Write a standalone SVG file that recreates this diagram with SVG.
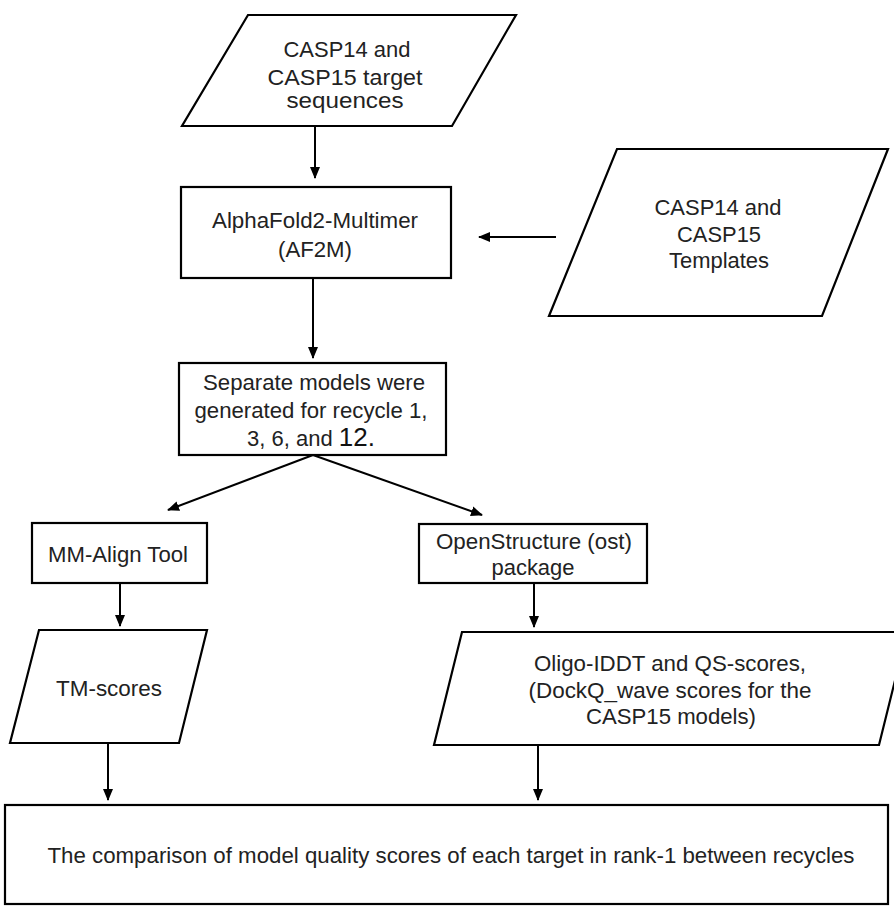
<svg xmlns="http://www.w3.org/2000/svg" width="894" height="907" viewBox="0 0 894 907">
<style>
.s{fill:#fff;stroke:#000;stroke-width:2.2}
.t{font-family:"Liberation Sans",Arial,sans-serif;font-size:22px;fill:#222;text-anchor:middle}
.c{stroke:#000;stroke-width:2;fill:none}
</style>
<defs>
<marker id="ah" markerUnits="userSpaceOnUse" markerWidth="12" markerHeight="12" viewBox="0 0 12 12" refX="11" refY="6" orient="auto">
<path d="M0,1 L12,6 L0,11 Z" fill="#000"/>
</marker>
</defs>
<rect width="894" height="907" fill="#fff"/>
<g id="connectors">
<line class="c" x1="315" y1="126" x2="315" y2="178" marker-end="url(#ah)"/>
<line class="c" x1="556" y1="237" x2="479" y2="237" marker-end="url(#ah)"/>
<line class="c" x1="313" y1="278" x2="313" y2="358" marker-end="url(#ah)"/>
<line class="c" x1="313" y1="455" x2="168" y2="510" marker-end="url(#ah)"/>
<line class="c" x1="313" y1="455" x2="482" y2="515" marker-end="url(#ah)"/>
<line class="c" x1="120" y1="583" x2="120" y2="626" marker-end="url(#ah)"/>
<line class="c" x1="534" y1="583" x2="534" y2="627" marker-end="url(#ah)"/>
<line class="c" x1="108" y1="743" x2="108" y2="800" marker-end="url(#ah)"/>
<line class="c" x1="538" y1="745" x2="538" y2="800" marker-end="url(#ah)"/>
</g>
<g id="target-sequences">
<polygon class="s" points="248,15 516,15 452,126 182,126"/>
<text class="t" x="347" y="57" textLength="127" lengthAdjust="spacingAndGlyphs">CASP14 and</text>
<text class="t" x="345" y="85" textLength="155" lengthAdjust="spacingAndGlyphs">CASP15 target</text>
<text class="t" x="345" y="108" textLength="117" lengthAdjust="spacingAndGlyphs">sequences</text>
</g>
<g id="af2m">
<rect class="s" x="181" y="187" width="270" height="91"/>
<text class="t" x="315" y="228" textLength="206" lengthAdjust="spacingAndGlyphs">AlphaFold2-Multimer</text>
<text class="t" x="315" y="257" textLength="74" lengthAdjust="spacingAndGlyphs">(AF2M)</text>
</g>
<g id="templates">
<polygon class="s" points="617,149 888,149 822,316 549,316"/>
<text class="t" x="718" y="215" textLength="127" lengthAdjust="spacingAndGlyphs">CASP14 and</text>
<text class="t" x="719" y="242" textLength="84" lengthAdjust="spacingAndGlyphs">CASP15</text>
<text class="t" x="719" y="268" textLength="100" lengthAdjust="spacingAndGlyphs">Templates</text>
</g>
<g id="separate-models">
<rect class="s" x="179" y="363" width="267" height="92"/>
<text class="t" x="314" y="390" textLength="222" lengthAdjust="spacingAndGlyphs">Separate models were</text>
<text class="t" x="311" y="418" textLength="233" lengthAdjust="spacingAndGlyphs">generated for recycle 1,</text>
<text class="t" x="247" y="446" style="text-anchor:start">3, 6, and <tspan style="font-size:26px;fill:#111">12.</tspan></text>
</g>
<g id="mm-align">
<rect class="s" x="32" y="523" width="175" height="60"/>
<text class="t" x="118" y="562" textLength="140" lengthAdjust="spacingAndGlyphs">MM-Align Tool</text>
</g>
<g id="openstructure">
<rect class="s" x="419" y="524" width="228" height="59"/>
<text class="t" x="534" y="549" textLength="196" lengthAdjust="spacingAndGlyphs">OpenStructure (ost)</text>
<text class="t" x="533" y="575" textLength="83" lengthAdjust="spacingAndGlyphs">package</text>
</g>
<g id="tm-scores">
<polygon class="s" points="39,630 207,630 179,743 10,743"/>
<text class="t" x="109" y="696" textLength="106" lengthAdjust="spacingAndGlyphs">TM-scores</text>
</g>
<g id="oligo-scores">
<polygon class="s" points="462,632 907,632 879,745 434,745"/>
<text class="t" x="670" y="671" textLength="272" lengthAdjust="spacingAndGlyphs">Oligo-IDDT and QS-scores,</text>
<text class="t" x="670" y="698" textLength="283" lengthAdjust="spacingAndGlyphs">(DockQ_wave scores for the</text>
<text class="t" x="671" y="724" textLength="170" lengthAdjust="spacingAndGlyphs">CASP15 models)</text>
</g>
<g id="comparison">
<rect class="s" x="5" y="805" width="883" height="99"/>
<text class="t" x="451" y="863" textLength="807" lengthAdjust="spacingAndGlyphs">The comparison of model quality scores of each target in rank-1 between recycles</text>
</g>
</svg>
